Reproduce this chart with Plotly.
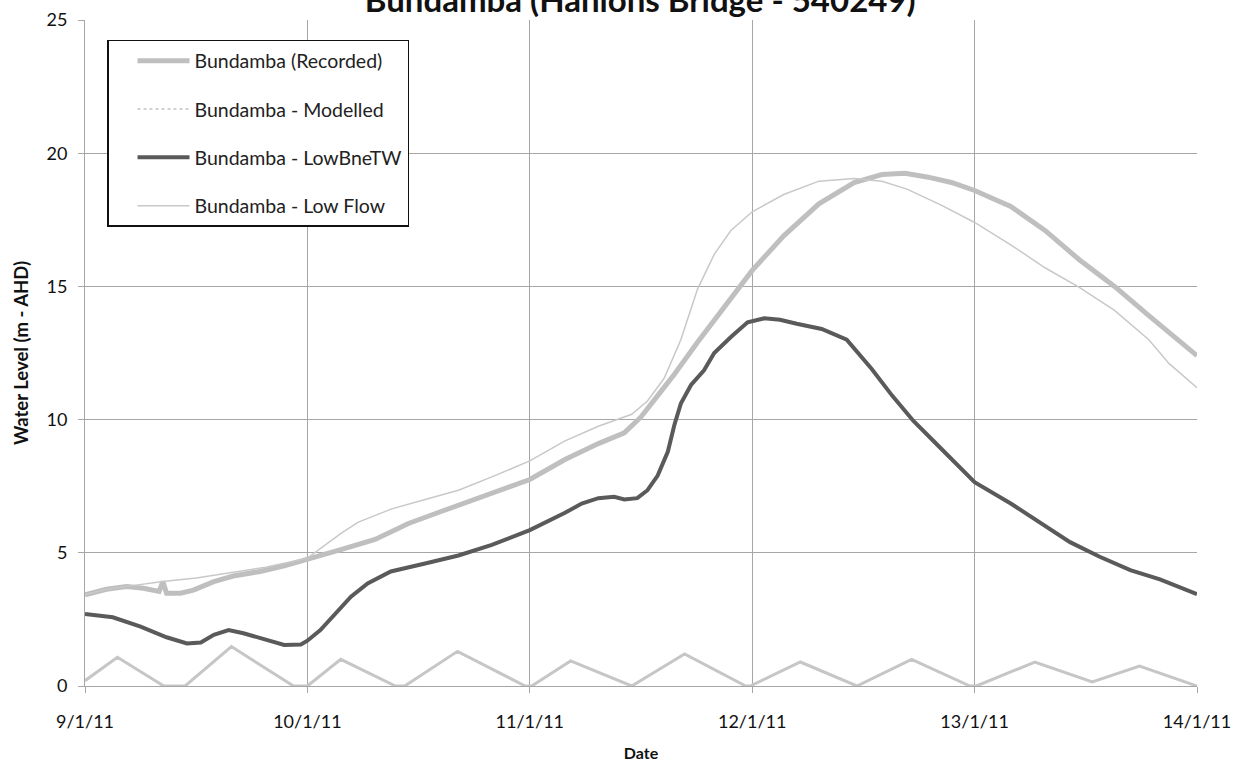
import pandas as pd
import plotly.graph_objects as go

# hours after 9/1/11 00:00, water level (m AHD)
recorded_hours = [0, 2.3, 4.5, 6.3, 8.0, 8.4, 8.8, 10.3, 11.7, 13.9, 16, 18.9, 21.5, 24,
                  27.7, 31.3, 34.9, 38.5, 42.1, 45.7, 48, 51.8, 55.4, 58.2, 60, 61.8, 63.6,
                  66.1, 69, 72, 75.4, 79.2, 83, 86, 88.5, 91, 93.5, 96, 99.9, 103.6, 107.3,
                  111.1, 114.8, 120]
recorded_level = [3.42, 3.63, 3.73, 3.67, 3.55, 3.92, 3.48, 3.48, 3.6, 3.92, 4.13, 4.3, 4.51, 4.75,
                  5.13, 5.5, 6.1, 6.56, 7.0, 7.45, 7.75, 8.5, 9.1, 9.5, 10.1, 10.9, 11.7,
                  12.9, 14.2, 15.6, 16.9, 18.1, 18.9, 19.2, 19.25, 19.1, 18.9, 18.6, 18.0, 17.1, 16.0,
                  15.0, 13.9, 12.4]

# modelled series shows only in the legend
modelled_hours = [0]
modelled_level = [None]

lowbnetw_hours = [0, 3, 6, 8.8, 11, 12.5, 13.9, 15.5, 17.1, 19.7, 21.5, 23.3, 24, 25.4, 26.9,
                  28.7, 30.5, 33, 36.7, 40.3, 43.9, 48, 51.8, 53.6, 55.4, 57.1, 58.2, 59.6,
                  60.7, 61.8, 62.9, 63.6, 64.3, 65.4, 66.8, 67.9, 69.7, 71.5, 73.3, 75, 76.8,
                  79.5, 82.2, 84.9, 87.1, 89.4, 91.7, 93.3, 96, 99.9, 103, 106.3, 109.5, 112.8,
                  116, 120]
lowbnetw_level = [2.7, 2.58, 2.23, 1.83, 1.6, 1.63, 1.92, 2.1, 1.98, 1.7, 1.54, 1.56, 1.7, 2.1, 2.65,
                  3.35, 3.85, 4.3, 4.6, 4.9, 5.3, 5.85, 6.5, 6.85, 7.05, 7.1, 7.0, 7.05,
                  7.35, 7.9, 8.8, 9.8, 10.6, 11.3, 11.85, 12.5, 13.1, 13.65, 13.8, 13.75, 13.6,
                  13.4, 13.0, 11.9, 10.9, 9.95, 9.15, 8.6, 7.65, 6.85, 6.15, 5.4, 4.85, 4.35,
                  4.0, 3.45]

lowflow_hours = [0, 2, 4.5, 8.4, 12, 15.7, 19.5, 24, 25.9, 27.7, 29.5, 33.1, 36.7, 40.3, 43.9,
                 48, 51.8, 55.4, 59, 60.7, 62.5, 64.3, 66.1, 67.9, 69.7, 72, 75.4, 79.2, 83,
                 86, 88.7, 92.4, 96, 99.9, 103.6, 107.3, 111.1, 114.8, 117, 120]
lowflow_level = [3.42, 3.6, 3.74, 3.92, 4.05, 4.26, 4.46, 4.8, 5.3, 5.75, 6.15, 6.65, 7.0, 7.35, 7.85,
                 8.45, 9.2, 9.75, 10.2, 10.7, 11.55, 13.0, 14.9, 16.2, 17.1, 17.8, 18.45, 18.95, 19.05,
                 18.95, 18.65, 18.05, 17.4, 16.56, 15.7, 14.96, 14.1, 13.0, 12.1, 11.2]

tide_hours = [0, 3.5, 8.5, 10.8, 15.8, 22.5, 24, 27.6, 33.5, 34.5, 40.2, 47.5, 48.2, 52.4, 59,
              64.7, 71.3, 71.8, 77.2, 83.3, 89.2, 95.5, 96.2, 102.5, 108.7, 113.8, 120]
tide_level = [0.2, 1.08, 0, 0, 1.48, 0, 0, 1.0, 0, 0, 1.3, 0, 0, 0.94, 0,
              1.2, 0, 0, 0.9, 0, 1.0, 0, 0, 0.9, 0.15, 0.75, 0]

start = pd.Timestamp('2011-01-09')


def toTime(hours):
    return [start + pd.Timedelta(hours=h) for h in hours]


fig = go.Figure()

fig.add_trace(go.Scatter(x=toTime(tide_hours), y=tide_level, mode='lines',
                         line=dict(color='#c6c6c6', width=3), showlegend=False,
                         name='Tide'))
fig.add_trace(go.Scatter(x=toTime(recorded_hours), y=recorded_level, mode='lines',
                         name='Bundamba (Recorded)', legendgroup='a',
                         line=dict(color='#bfbfbf', width=5)))
fig.add_trace(go.Scatter(x=toTime(modelled_hours), y=modelled_level, mode='lines',
                         name='Bundamba - Modelled', legendgroup='b',
                         line=dict(color='#d0d0d0', width=2, dash='dot')))
fig.add_trace(go.Scatter(x=toTime(lowbnetw_hours), y=lowbnetw_level, mode='lines',
                         name='Bundamba - LowBneTW', legendgroup='c',
                         line=dict(color='#5a5a5a', width=4)))
fig.add_trace(go.Scatter(x=toTime(lowflow_hours), y=lowflow_level, mode='lines',
                         name='Bundamba - Low Flow', legendgroup='d',
                         line=dict(color='#c8c8c8', width=1.5)))

gridColor = '#a6a6a6'
fontFamily = 'Lato, Carlito, Calibri, sans-serif'

fig.update_layout(
    width=1248, height=765,
    margin=dict(l=85, r=51, t=20, b=79),
    paper_bgcolor='white', plot_bgcolor='white',
    font=dict(family=fontFamily, size=18, color='#111111'),
    title=dict(text='Bundamba (Hanlons Bridge - 540249)', x=0.513, xanchor='center',
               y=1.0, yanchor='middle', yref='container',
               font=dict(family=fontFamily, size=33, weight='bold', color='#111111')),
    legend=dict(x=0.0198, y=0.97, xanchor='left', yanchor='top',
                bgcolor='white', bordercolor='#111111', borderwidth=1.5,
                font=dict(family=fontFamily, size=19.5, color='#222222'),
                traceorder='grouped', tracegroupgap=20, itemwidth=52,
                indentation=24),
    xaxis=dict(range=[start, start + pd.Timedelta(days=5)], type='date',
               tickformat='%-d/%-m/%y', dtick=86400000, tick0=start,
               showgrid=True, gridcolor=gridColor, gridwidth=1,
               showline=True, linecolor=gridColor, linewidth=1,
               ticks='outside', ticklen=6, tickcolor=gridColor,
               ticklabelstandoff=13, automargin=False,
               title=dict(text='Date', standoff=17,
                          font=dict(family=fontFamily, size=16, weight='bold'))),
    yaxis=dict(range=[0, 25], dtick=5, tick0=0,
               showgrid=True, gridcolor=gridColor, gridwidth=1,
               showline=True, linecolor=gridColor, linewidth=1,
               ticks='outside', ticklen=6, tickcolor=gridColor,
               ticklabelstandoff=7, zeroline=False, automargin=False,
               title=dict(text='Water Level (m - AHD)', standoff=13,
                          font=dict(family=fontFamily, size=18.5, weight='bold'))),
)

# the page body has a default margin; remove it so the figure fills the window
fig.write_html('out.html', config={'displayModeBar': False},
               post_script="document.body.style.margin='0';document.body.style.overflow='hidden';")
